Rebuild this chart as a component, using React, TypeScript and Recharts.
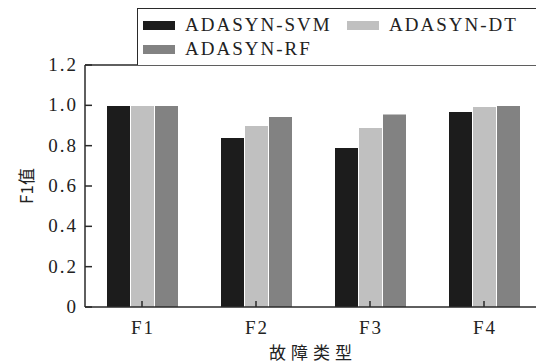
import React from 'react'
import { BarChart, Bar, XAxis, YAxis, Legend, ReferenceLine } from 'recharts'

const categories = ['F1', 'F2', 'F3', 'F4']
const seriesNames = ['ADASYN-SVM', 'ADASYN-DT', 'ADASYN-RF']
const svmValues = [0.997, 0.838, 0.788, 0.967]
const dtValues = [0.997, 0.897, 0.887, 0.992]
const rfValues = [0.997, 0.942, 0.955, 0.997]
const yTicks = [0, 0.2, 0.4, 0.6, 0.8, 1.0, 1.2]

const data = categories.map((name, i) => ({
  name,
  svm: svmValues[i],
  dt: dtValues[i],
  rf: rfValues[i],
}))

const FONT = "'Times New Roman', 'Liberation Serif', Times, serif"
const CJK = "'Noto Sans CJK SC', 'Times New Roman', serif"
const AXIS = '#2a2a2a'

function YTick(props: any) {
  const { x, y, payload } = props
  const v = payload.value
  const label = v === 0 ? '0' : v.toFixed(1)
  return (
    <g>
      <line x1={x + 8} y1={y} x2={x + 15} y2={y} stroke={AXIS} strokeWidth={1.5} />
      <text
        x={x + 1}
        y={y + 6}
        textAnchor="end"
        style={{ fontFamily: FONT }}
        fontSize={19}
        letterSpacing={2}
        fill="#222"
      >
        {label}
      </text>
    </g>
  )
}

function XTick(props: any) {
  const { x, y, payload } = props
  return (
    <g>
      <line x1={x} y1={y} x2={x} y2={y - 6} stroke={AXIS} strokeWidth={1.5} />
      <text
        x={x + 1}
        y={y + 27}
        textAnchor="middle"
        style={{ fontFamily: FONT }}
        fontSize={19}
        letterSpacing={2}
        fill="#222"
      >
        {payload.value}
      </text>
    </g>
  )
}

function LegendBox(props: any) {
  const items = [...(props.payload || [])].sort(
    (a: any, b: any) => seriesNames.indexOf(a.value) - seriesNames.indexOf(b.value),
  )
  return (
    <div
      style={{
        position: 'relative',
        width: 420,
        height: 57,
        borderTop: `1.5px solid ${AXIS}`,
        borderLeft: `1.5px solid ${AXIS}`,
        boxSizing: 'border-box',
        background: '#fff',
      }}
    >
      {items.map((entry: any, i: number) => {
        const col = i % 2
        const row = Math.floor(i / 2)
        return (
          <div
            key={entry.value}
            style={{
              position: 'absolute',
              left: 5 + col * 204,
              top: 4 + row * 24,
              display: 'flex',
              alignItems: 'center',
              whiteSpace: 'nowrap',
            }}
          >
            <span
              style={{
                display: 'inline-block',
                width: 32,
                height: 9,
                background: entry.color,
                marginRight: 10,
              }}
            />
            <span
              style={{
                fontFamily: FONT,
                fontSize: 19,
                letterSpacing: 2,
                color: '#222',
                lineHeight: '24px',
              }}
            >
              {entry.value}
            </span>
          </div>
        )
      })}
    </div>
  )
}

export default function App() {
  return (
    <div
      style={{
        position: 'absolute',
        left: 0,
        top: 0,
        width: 536,
        height: 363,
        overflow: 'hidden',
        background: '#fff',
        fontFamily: FONT,
      }}
    >
      <BarChart
        width={545}
        height={363}
        data={data}
        margin={{ top: 65, right: 4, left: 0, bottom: 0 }}
        barCategoryGap={22}
        barGap={1}
      >
        <XAxis
          dataKey="name"
          height={56}
          axisLine={{ stroke: AXIS, strokeWidth: 1.5 }}
          tickLine={false}
          tickSize={0}
          tickMargin={0}
          tick={<XTick />}
          interval={0}
          label={{
            content: (p: any) => {
              const vb = p.viewBox
              return (
                <text
                  x={vb.x + 228}
                  y={vb.y + 52}
                  textAnchor="middle"
                  style={{ fontFamily: CJK }}
                  fontSize={17}
                  letterSpacing={5}
                  fill="#222"
                >
                  故障类型
                </text>
              )
            },
          }}
        />
        <YAxis
          width={85}
          domain={[0, 1.2]}
          ticks={yTicks}
          interval={0}
          axisLine={{ stroke: AXIS, strokeWidth: 1.5 }}
          tickLine={false}
          tickSize={0}
          tickMargin={8}
          tick={<YTick />}
          label={{
            content: (p: any) => {
              const vb = p.viewBox
              const cx = 25
              const cy = vb.y + vb.height / 2
              return (
                <text
                  x={cx}
                  y={cy}
                  textAnchor="middle"
                  dominantBaseline="central"
                  transform={`rotate(-90 ${cx} ${cy})`}
                  style={{ fontFamily: CJK }}
                  fontSize={17}
                  fill="#222"
                >
                  F1值
                </text>
              )
            },
          }}
        />
        <ReferenceLine y={1.2} stroke={AXIS} strokeWidth={1.5} ifOverflow="visible" />
        <Legend
          layout="horizontal"
          verticalAlign="middle"
          align="center"
          content={<LegendBox />}
          wrapperStyle={{ position: 'absolute', left: 137, top: 8, width: 420, height: 57 }}
        />
        <Bar dataKey="svm" name="ADASYN-SVM" fill="#1c1c1c" isAnimationActive={false} />
        <Bar dataKey="dt" name="ADASYN-DT" fill="#c0c0c0" isAnimationActive={false} />
        <Bar dataKey="rf" name="ADASYN-RF" fill="#828282" isAnimationActive={false} />
      </BarChart>
    </div>
  )
}
